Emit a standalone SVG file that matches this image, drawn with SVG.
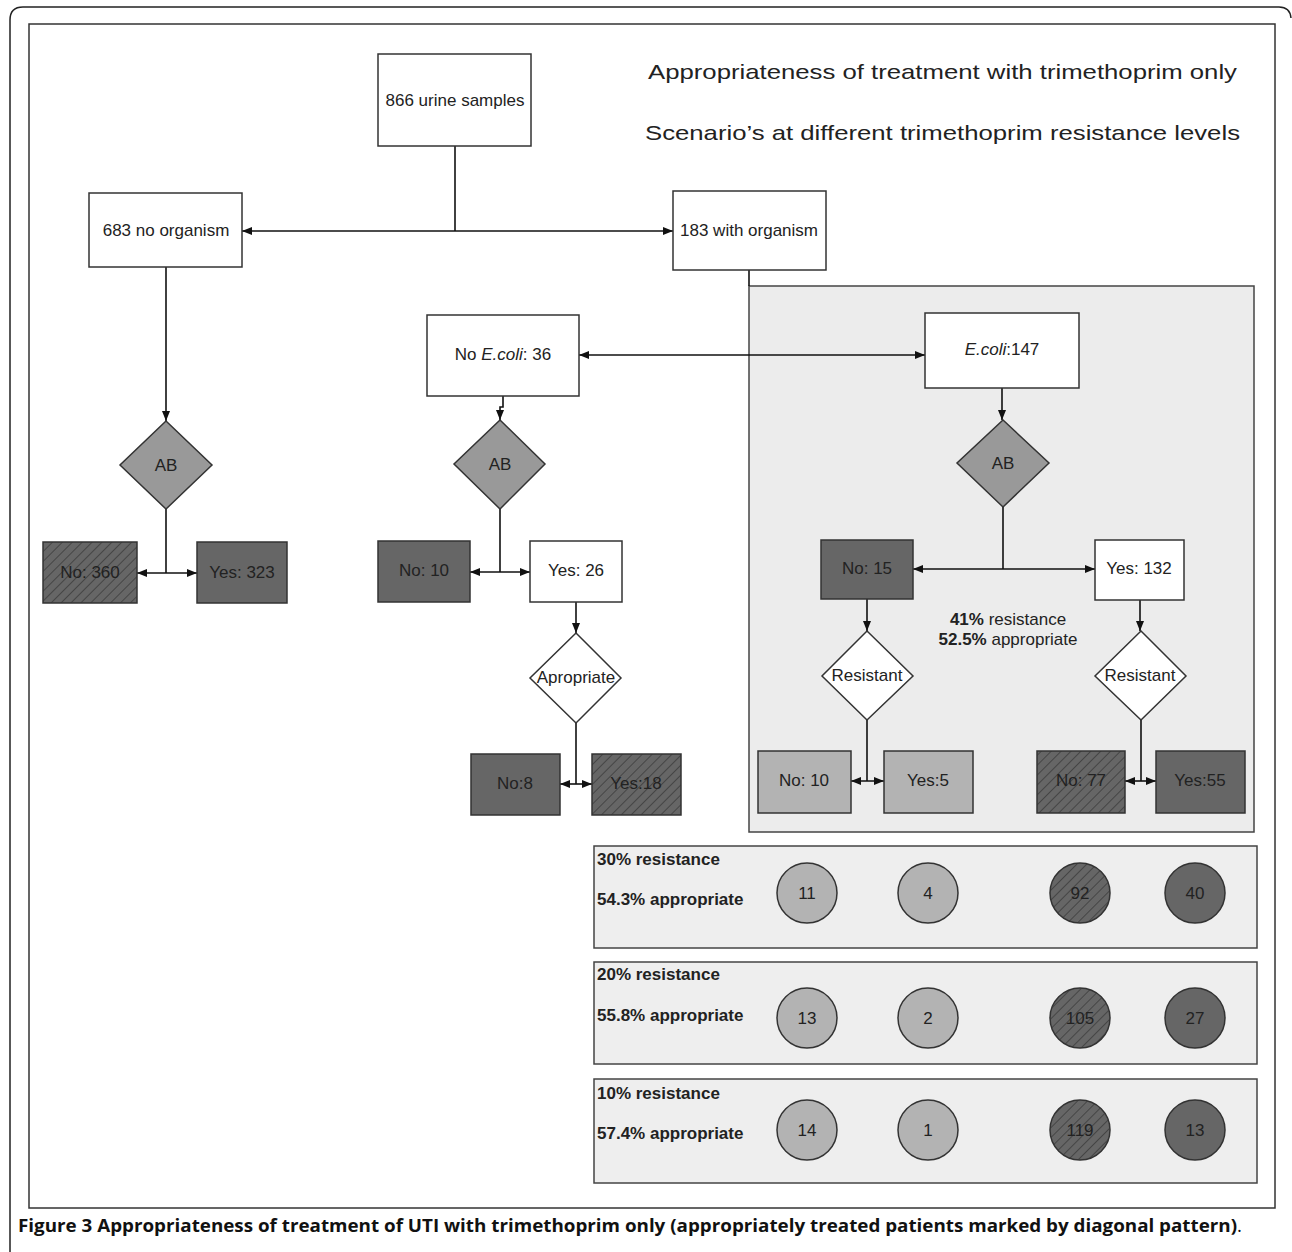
<svg xmlns="http://www.w3.org/2000/svg" width="1292" height="1252" viewBox="0 0 1292 1252">
<style>
.t{font-family:"Liberation Sans",Arial,sans-serif;font-size:17px;fill:#222;text-anchor:middle}
.b{font-weight:bold}
.l{text-anchor:start}
.box{stroke:#333;stroke-width:1.5}
.white{fill:#fff}
.dark{fill:#666}
.light{fill:#b3b3b3}
.mid{fill:#999}
.con{fill:none;stroke:#111;stroke-width:1.6}
.panel{fill:#eeeeee;stroke:#444;stroke-width:1.5}
</style>
<defs>
<pattern id="hatch" patternUnits="userSpaceOnUse" width="7" height="7" patternTransform="rotate(45)">
<rect width="7" height="7" fill="#666"/>
<line x1="0" y1="0" x2="0" y2="7" stroke="#3c3c3c" stroke-width="1.6"/>
</pattern>
<marker id="ar" viewBox="0 0 10 8" refX="10" refY="4" markerWidth="10" markerHeight="8" markerUnits="userSpaceOnUse" orient="auto-start-reverse">
<path d="M0,0 L10,4 L0,8 z" fill="#111"/>
</marker>
</defs>
<rect width="1292" height="1252" fill="#fff"/>
<path d="M10,1252 V20 Q10,7 23,7 H1279 Q1290,7 1291,18" fill="none" stroke="#222" stroke-width="1.5"/>
<rect x="29" y="24" width="1246" height="1184" fill="#fff" stroke="#333" stroke-width="1.5"/>
<text class="t" x="942.5" y="79" font-size="21" textLength="589" lengthAdjust="spacingAndGlyphs" style="font-size:21px">Appropriateness of treatment with trimethoprim only</text>
<text class="t" x="942.5" y="140" style="font-size:21px" textLength="595" lengthAdjust="spacingAndGlyphs">Scenario’s at different trimethoprim resistance levels</text>
<g id="ecoli-region"><rect x="749" y="286" width="505" height="546" fill="#ececec" stroke="#444" stroke-width="1.5"/></g>
<g id="connectors">
<path class="con" d="M455,146 V231"/>
<path class="con" d="M242,231 H673" marker-start="url(#ar)" marker-end="url(#ar)"/>
<path class="con" d="M166,267 V421" marker-end="url(#ar)"/>
<path class="con" d="M749,270 V286"/>
<path class="con" d="M579,355 H925" marker-start="url(#ar)" marker-end="url(#ar)"/>
<path class="con" d="M503,396 V407 H500 V420" marker-end="url(#ar)"/>
<path class="con" d="M1002,388 V420" marker-end="url(#ar)"/>
<path class="con" d="M166,509 V573"/>
<path class="con" d="M137,573 H197" marker-start="url(#ar)" marker-end="url(#ar)"/>
<path class="con" d="M500,509 V572"/>
<path class="con" d="M470,572 H530" marker-start="url(#ar)" marker-end="url(#ar)"/>
<path class="con" d="M576,602 V633" marker-end="url(#ar)"/>
<path class="con" d="M576,723 V784"/>
<path class="con" d="M560,784 H592" marker-start="url(#ar)" marker-end="url(#ar)"/>
<path class="con" d="M1003,507 V569"/>
<path class="con" d="M913,569 H1095" marker-start="url(#ar)" marker-end="url(#ar)"/>
<path class="con" d="M867,599 V631" marker-end="url(#ar)"/>
<path class="con" d="M1140,600 V631" marker-end="url(#ar)"/>
<path class="con" d="M867,720 V781"/>
<path class="con" d="M851,781 H884" marker-start="url(#ar)" marker-end="url(#ar)"/>
<path class="con" d="M1141,720 V781"/>
<path class="con" d="M1125,781 H1156" marker-start="url(#ar)" marker-end="url(#ar)"/>
</g>
<g id="n866"><rect class="box white" x="378" y="54" width="153" height="92"/><text class="t" x="455" y="106">866 urine samples</text></g>
<g id="n683"><rect class="box white" x="89" y="193" width="153" height="74"/><text class="t" x="166" y="236">683 no organism</text></g>
<g id="n183"><rect class="box white" x="673" y="191" width="153" height="79"/><text class="t" x="749" y="236">183 with organism</text></g>
<g id="noecoli"><rect class="box white" x="427" y="315" width="152" height="81"/><text class="t" x="503" y="360">No <tspan font-style="italic">E.coli</tspan>: 36</text></g>
<g id="ecoli"><rect class="box white" x="925" y="313" width="154" height="75"/><text class="t" x="1002" y="355"><tspan font-style="italic">E.coli</tspan>:147</text></g>
<g id="ab1"><path class="box mid" d="M166,421 L212,465 L166,509 L120,465 z"/><text class="t" x="166" y="471">AB</text></g>
<g id="ab2"><path class="box mid" d="M500,420 L545,464 L500,509 L454,464 z"/><text class="t" x="500" y="470">AB</text></g>
<g id="ab3"><path class="box mid" d="M1003,420 L1049,463 L1003,507 L957,463 z"/><text class="t" x="1003" y="469">AB</text></g>
<g id="no360"><rect class="box" fill="url(#hatch)" x="43" y="542" width="94" height="61"/><text class="t" x="90" y="578">No: 360</text></g>
<g id="yes323"><rect class="box dark" x="197" y="542" width="90" height="61"/><text class="t" x="242" y="578">Yes: 323</text></g>
<g id="no10a"><rect class="box dark" x="378" y="541" width="92" height="61"/><text class="t" x="424" y="576">No: 10</text></g>
<g id="yes26"><rect class="box white" x="530" y="541" width="92" height="61"/><text class="t" x="576" y="576">Yes: 26</text></g>
<g id="apropriate"><path class="box white" d="M576,633 L621,678 L576,723 L530,678 z"/><text class="t" x="576" y="683">Apropriate</text></g>
<g id="no8"><rect class="box dark" x="471" y="754" width="89" height="61"/><text class="t" x="515" y="789">No:8</text></g>
<g id="yes18"><rect class="box" fill="url(#hatch)" x="592" y="754" width="89" height="61"/><text class="t" x="636" y="789">Yes:18</text></g>
<g id="no15"><rect class="box dark" x="821" y="540" width="92" height="59"/><text class="t" x="867" y="574">No: 15</text></g>
<g id="yes132"><rect class="box white" x="1095" y="540" width="89" height="60"/><text class="t" x="1139" y="574">Yes: 132</text></g>
<g id="stats41"><text class="t" x="1008" y="625"><tspan class="b">41%</tspan> resistance</text><text class="t" x="1008" y="645"><tspan class="b">52.5%</tspan> appropriate</text></g>
<g id="res1"><path class="box white" d="M867,631 L913,676 L867,720 L822,676 z"/><text class="t" x="867" y="681">Resistant</text></g>
<g id="res2"><path class="box white" d="M1141,631 L1186,676 L1141,720 L1095,676 z"/><text class="t" x="1140" y="681">Resistant</text></g>
<g id="no10b"><rect class="box light" x="758" y="751" width="93" height="62"/><text class="t" x="804" y="786">No: 10</text></g>
<g id="yes5"><rect class="box light" x="884" y="751" width="89" height="62"/><text class="t" x="928" y="786">Yes:5</text></g>
<g id="no77"><rect class="box" fill="url(#hatch)" x="1037" y="751" width="88" height="62"/><text class="t" x="1081" y="786">No: 77</text></g>
<g id="yes55"><rect class="box dark" x="1156" y="751" width="89" height="62"/><text class="t" x="1200" y="786">Yes:55</text></g>
<g id="panel30"><rect class="panel" x="594" y="846" width="663" height="102"/>
<text class="t b l" x="597" y="865">30% resistance</text><text class="t b l" x="597" y="905">54.3% appropriate</text>
<circle class="box light" cx="807" cy="893" r="30"/><text class="t" x="807" y="899">11</text>
<circle class="box light" cx="928" cy="893" r="30"/><text class="t" x="928" y="899">4</text>
<circle class="box" fill="url(#hatch)" cx="1080" cy="893" r="30"/><text class="t" x="1080" y="899">92</text>
<circle class="box dark" cx="1195" cy="893" r="30"/><text class="t" x="1195" y="899">40</text></g>
<g id="panel20"><rect class="panel" x="594" y="962" width="663" height="102"/>
<text class="t b l" x="597" y="980">20% resistance</text><text class="t b l" x="597" y="1021">55.8% appropriate</text>
<circle class="box light" cx="807" cy="1018" r="30"/><text class="t" x="807" y="1024">13</text>
<circle class="box light" cx="928" cy="1018" r="30"/><text class="t" x="928" y="1024">2</text>
<circle class="box" fill="url(#hatch)" cx="1080" cy="1018" r="30"/><text class="t" x="1080" y="1024">105</text>
<circle class="box dark" cx="1195" cy="1018" r="30"/><text class="t" x="1195" y="1024">27</text></g>
<g id="panel10"><rect class="panel" x="594" y="1079" width="663" height="104"/>
<text class="t b l" x="597" y="1099">10% resistance</text><text class="t b l" x="597" y="1139">57.4% appropriate</text>
<circle class="box light" cx="807" cy="1130" r="30"/><text class="t" x="807" y="1136">14</text>
<circle class="box light" cx="928" cy="1130" r="30"/><text class="t" x="928" y="1136">1</text>
<circle class="box" fill="url(#hatch)" cx="1080" cy="1130" r="30"/><text class="t" x="1080" y="1136">119</text>
<circle class="box dark" cx="1195" cy="1130" r="30"/><text class="t" x="1195" y="1136">13</text></g>
<text x="18" y="1232" style="font-family:'Open Sans','Noto Sans',sans-serif;font-size:18px;font-weight:bold;fill:#111" textLength="1224" lengthAdjust="spacingAndGlyphs">Figure 3 Appropriateness of treatment of UTI with trimethoprim only (appropriately treated patients marked by diagonal pattern)<tspan font-weight="normal">.</tspan></text>
</svg>
